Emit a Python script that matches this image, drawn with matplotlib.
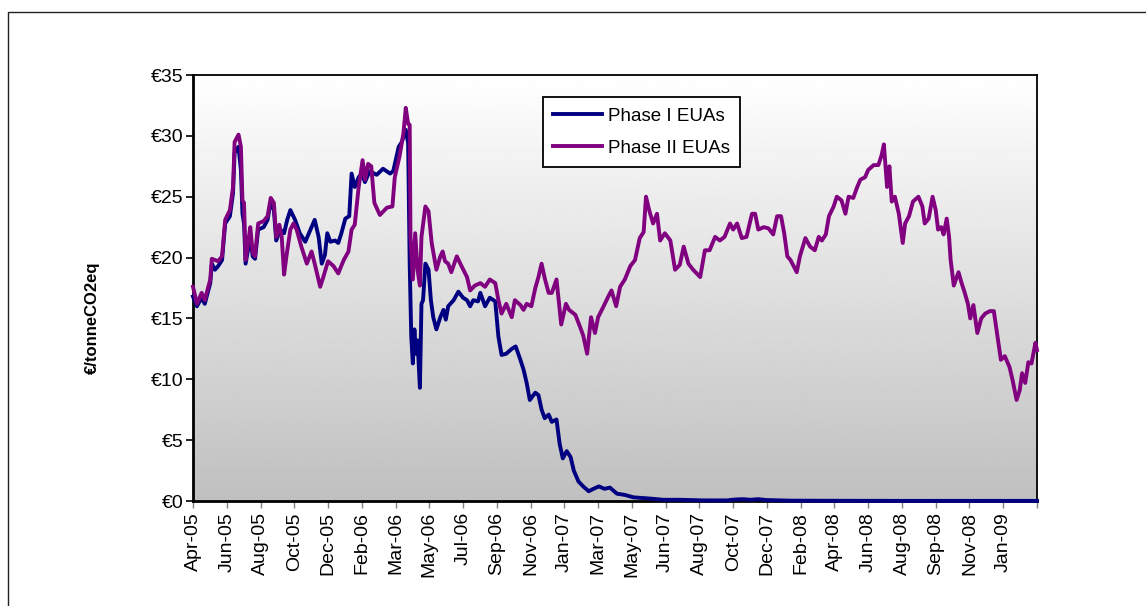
import matplotlib
matplotlib.use("Agg")
import matplotlib.pyplot as plt
import numpy as np
from matplotlib.patches import Rectangle

# trading-day index (43 days between labelled ticks) and price in EUR/t
phase1_day = [0, 5, 11, 15, 22, 24, 28, 32, 37, 41, 47, 51, 53, 58, 61, 63, 65, 67, 70, 73,
              76, 79, 83, 90, 95, 99, 103, 106, 111, 116, 120, 124, 130, 136, 143, 147, 151,
              155, 160, 164, 168, 171, 175, 181, 185, 189, 194, 199, 202, 206, 211, 215, 219,
              225, 234, 242, 251, 255, 262, 266, 271, 274, 276, 278, 280, 282, 284, 286, 289,
              291, 293, 296, 300, 303, 306, 310, 315, 319, 322, 325, 332, 338, 344, 349, 353,
              357, 363, 366, 372, 378, 385, 389, 393, 399, 406, 411, 417, 421, 425, 429, 436,
              440, 444, 448, 453, 457, 463, 467, 471, 476, 481, 485, 491, 497, 504, 510, 517,
              524, 531, 540, 550, 561, 582, 599, 620, 650, 680, 690, 700, 710, 720, 730, 760,
              800, 900, 1000, 1075]
phase1_price = [16.8, 16.0, 16.7, 16.2, 17.9, 19.5, 19.0, 19.3, 19.8, 22.8, 23.4, 25.3, 28.6,
                29.1, 27.2, 23.6, 22.8, 19.5, 20.6, 21.7, 20.1, 19.9, 22.3, 22.5, 23.1, 24.6,
                23.9, 21.4, 22.3, 22.0, 23.1, 23.9, 23.1, 22.0, 21.3, 21.9, 22.5, 23.1, 21.7,
                19.5, 20.2, 22.0, 21.3, 21.4, 21.2, 22.0, 23.2, 23.4, 26.9, 25.8, 26.6, 26.9,
                26.2, 27.1, 26.8, 27.3, 26.9, 27.1, 29.1, 29.5, 30.5, 29.4, 19.5, 13.5, 11.3,
                14.1, 12.1, 13.2, 9.3, 16.2, 16.5, 19.5, 19.0, 16.5, 15.1, 14.1, 15.1, 15.7,
                14.9, 16.0, 16.5, 17.2, 16.7, 16.5, 16.0, 16.5, 16.4, 17.1, 16.0, 16.7, 16.4,
                13.5, 12.0, 12.1, 12.5, 12.7, 11.6, 10.8, 9.7, 8.3, 8.9, 8.7, 7.5, 6.8, 7.1,
                6.5, 6.7, 4.7, 3.5, 4.1, 3.6, 2.5, 1.6, 1.2, 0.8, 1.0, 1.2, 1.0, 1.1, 0.6,
                0.5, 0.3, 0.2, 0.1, 0.1, 0.05, 0.05, 0.12, 0.15, 0.1, 0.15, 0.08, 0.03, 0.02,
                0.01, 0.01, 0.01]

phase2_day = [0, 5, 11, 15, 22, 24, 28, 32, 37, 41, 47, 51, 53, 58, 61, 63, 65, 67, 70, 73,
              76, 79, 83, 90, 95, 99, 103, 106, 110, 113, 116, 119, 124, 128, 132, 138, 145,
              151, 155, 162, 166, 172, 179, 185, 192, 198, 202, 206, 211, 216, 219, 223, 227,
              231, 238, 247, 254, 257, 263, 268, 271, 274, 276, 277, 280, 283, 286, 289, 291,
              296, 300, 304, 310, 315, 318, 321, 325, 329, 336, 342, 349, 353, 359, 366, 372,
              378, 385, 389, 393, 399, 406, 410, 417, 421, 425, 431, 436, 440, 444, 448, 453,
              457, 463, 469, 475, 479, 487, 493, 497, 502, 507, 512, 516, 523, 529, 533, 539,
              544, 550, 557, 563, 569, 574, 577, 581, 586, 591, 595, 601, 608, 614, 620, 625,
              631, 637, 646, 652, 658, 665, 671, 677, 684, 688, 693, 699, 705, 712, 716, 720,
              727, 733, 739, 744, 749, 753, 757, 761, 765, 769, 773, 780, 786, 792, 797, 801,
              806, 810, 816, 820, 826, 831, 835, 841, 846, 850, 856, 860, 867, 873, 877, 880,
              882, 884, 887, 890, 894, 899, 904, 907, 912, 917, 924, 929, 932, 937, 942, 946,
              949, 953, 956, 960, 963, 965, 969, 975, 979, 983, 987, 990, 994, 999, 1004, 1009,
              1015, 1020, 1024, 1029, 1034, 1040, 1044, 1049, 1053, 1056, 1060, 1064, 1068,
              1073, 1075]
phase2_price = [17.6, 16.2, 17.1, 16.5, 18.2, 19.9, 19.8, 19.7, 20.1, 23.1, 23.9, 25.8, 29.5,
                30.1, 29.1, 24.7, 24.5, 19.8, 21.2, 22.5, 20.4, 20.1, 22.8, 23.0, 23.4, 24.9,
                24.5, 21.7, 22.7, 21.7, 18.6, 20.1, 22.3, 22.8, 22.3, 20.9, 19.5, 20.5, 19.5,
                17.6, 18.4, 19.7, 19.3, 18.7, 19.8, 20.5, 22.3, 22.7, 25.8, 28.0, 26.4, 27.7,
                27.5, 24.5, 23.5, 24.1, 24.2, 26.6, 28.3, 30.2, 32.3, 31.0, 30.9, 21.7, 18.2,
                22.0, 19.0, 17.7, 21.7, 24.2, 23.8, 21.2, 19.0, 20.1, 20.5, 19.7, 19.5, 18.8,
                20.1, 19.3, 18.4, 17.3, 17.7, 17.9, 17.6, 18.2, 17.9, 16.5, 15.4, 16.2, 15.1,
                16.5, 16.1, 15.7, 16.2, 16.0, 17.5, 18.4, 19.5, 18.3, 17.1, 17.1, 18.2, 14.5,
                16.2, 15.7, 15.3, 14.3, 13.6, 12.1, 15.1, 13.8, 15.1, 16.0, 16.8, 17.3, 16.0,
                17.6, 18.2, 19.3, 19.8, 21.6, 22.1, 25.0, 23.9, 22.8, 23.6, 21.4, 22.0, 21.4,
                19.0, 19.4, 20.9, 19.5, 19.0, 18.4, 20.6, 20.6, 21.7, 21.4, 21.7, 22.8, 22.3,
                22.8, 21.6, 21.7, 23.6, 23.6, 22.3, 22.5, 22.4, 21.9, 23.4, 23.4, 22.0, 20.1,
                19.8, 19.3, 18.8, 20.1, 21.6, 20.9, 20.6, 21.7, 21.4, 21.9, 23.4, 24.2, 25.0,
                24.7, 23.6, 25.0, 24.9, 25.8, 26.4, 26.6, 27.2, 27.6, 27.6, 28.4, 29.3, 27.5,
                25.8, 27.5, 24.6, 25.0, 23.6, 21.2, 22.8, 23.4, 24.6, 25.0, 24.2, 22.8, 23.2,
                25.0, 23.9, 22.3, 22.5, 21.9, 23.2, 21.7, 19.8, 17.7, 18.8, 17.9, 17.1, 16.2,
                15.0, 16.1, 13.8, 15.0, 15.4, 15.6, 15.6, 13.8, 11.6, 11.9, 11.0, 9.9, 8.3,
                9.1, 10.5, 9.7, 11.4, 11.3, 13.0, 12.4]

tick_labels = ["Apr-05", "Jun-05", "Aug-05", "Oct-05", "Dec-05", "Feb-06", "Mar-06",
               "May-06", "Jul-06", "Sep-06", "Nov-06", "Jan-07", "Mar-07", "May-07",
               "Jun-07", "Aug-07", "Oct-07", "Dec-07", "Feb-08", "Apr-08", "Jun-08",
               "Aug-08", "Sep-08", "Nov-08", "Jan-09", ""]
days_per_tick = 43

plt.rcParams['font.family'] = ['Liberation Sans', 'DejaVu Sans']

fig = plt.figure(figsize=(11.46, 6.06), dpi=100)
ax = fig.add_axes([193 / 1146, 1 - 501 / 606, 844 / 1146, 426 / 606])

# white-to-grey gradient plot area
grad = np.linspace(1.0, 0.75, 256).reshape(-1, 1)
ax.imshow(grad, cmap="gray", vmin=0, vmax=1, aspect="auto",
          extent=[0, 1, 0, 1], transform=ax.transAxes, zorder=0)

ax.plot(phase1_day, phase1_price, color="#000080", lw=2.8, label="Phase I EUAs",
        zorder=3, clip_on=False)
ax.plot(phase2_day, phase2_price, color="#800080", lw=2.8, label="Phase II EUAs",
        zorder=3, clip_on=False)

ax.set_xlim(0, days_per_tick * (len(tick_labels) - 1))
ax.set_ylim(0, 35)
ax.set_xticks(np.arange(len(tick_labels)) * days_per_tick)
ax.set_xticklabels(tick_labels, rotation=90, fontsize=14)
ax.set_yticks(range(0, 36, 5))
ax.set_yticklabels([f"€{v}" for v in range(0, 36, 5)], fontsize=14)
ax.tick_params(axis="x", length=5, width=1, color="#808080", pad=3)
ax.tick_params(axis="y", length=5, width=1.2, color="black", pad=2)

for side in ["left", "bottom"]:
    ax.spines[side].set_linewidth(2)
for side in ["top", "right"]:
    ax.spines[side].set_linewidth(1.3)

leg = ax.legend(loc="upper left", bbox_to_anchor=(0.4147, 0.948), fontsize=13.5,
                frameon=True, fancybox=False, edgecolor="black", facecolor="white",
                framealpha=1, handlelength=2.6, handletextpad=0.3, labelspacing=0.8,
                borderpad=0.55, borderaxespad=0)
leg.get_frame().set_linewidth(1.3)

fig.text(92 / 1146, 1 - 318 / 606, "€/tonneCO2eq", rotation=90, ha="center",
         va="center", fontsize=12, fontweight="bold")

# outer chart border
fig.add_artist(Rectangle((8 / 1146, -0.2), 1.2, 0.2 + (606 - 12) / 606,
                         transform=fig.transFigure, fill=False, lw=1.0,
                         edgecolor="#222222"))

fig.savefig("out.png", dpi=100)
